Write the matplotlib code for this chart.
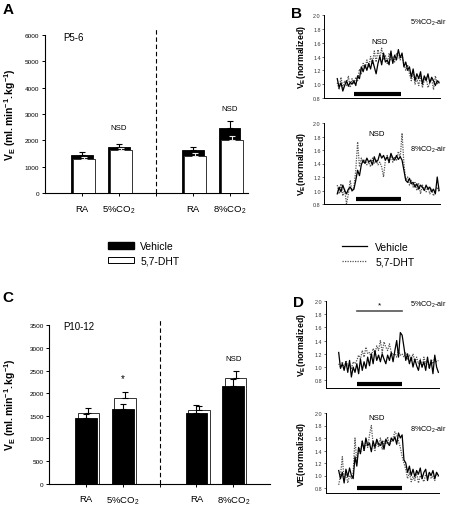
import numpy as np
import matplotlib
matplotlib.use('Agg')
import matplotlib.pyplot as plt
from matplotlib.patches import Patch
from matplotlib.lines import Line2D

# Bar data (ml.min-1.kg-1), groups: RA, 5%CO2, RA, 8%CO2
positions = [1, 2, 4, 5]
group_labels = ['RA', '5%CO$_2$', '', 'RA', '8%CO$_2$']

a_vehicle = [1450, 1750, 1650, 2480]
a_vehicle_err = [100, 100, 110, 270]
a_dht = [1280, 1620, 1420, 2030]
a_dht_err = [110, 100, 120, 130]

c_vehicle = [1460, 1650, 1560, 2150]
c_vehicle_err = [80, 110, 170, 170]
c_dht = [1560, 1900, 1620, 2330]
c_dht_err = [110, 130, 90, 150]

# Normalized VE traces (sample index), stimulus marked by black bar
b5_vehicle = [1.08, 0.95, 1.02, 0.90, 0.98, 1.05, 0.97, 1.03, 1.00,
              1.05, 0.98, 1.12, 1.08, 1.25, 1.18, 1.28, 1.20, 1.30, 1.22, 1.35, 1.25, 1.15, 1.30,
              1.40, 1.28, 1.45, 1.32, 1.35, 1.28, 1.48, 1.30, 1.42, 1.35, 1.50, 1.38, 1.45,
              1.25, 1.32, 1.20, 1.25, 1.10, 1.22, 1.05, 1.15, 1.08, 1.18, 1.00, 1.12, 1.05, 1.15,
              1.02, 1.10, 1.05, 0.98, 1.05, 1.02]
b5_dht = [1.02, 0.92, 1.10, 0.95, 1.05, 0.98, 1.12, 0.95, 1.08,
          1.00, 1.10, 1.05, 1.22, 1.15, 1.30, 1.22, 1.35, 1.25, 1.40, 1.30, 1.48, 1.32, 1.50,
          1.38, 1.52, 1.35, 1.42, 1.30, 1.45, 1.35, 1.40, 1.32, 1.45, 1.40, 1.35, 1.42,
          1.30, 1.20, 1.28, 1.15, 1.05, 1.18, 1.00, 1.08, 0.98, 1.12, 0.95, 1.05, 1.10, 0.95,
          1.02, 1.08, 0.92, 1.12, 1.00, 1.05]
b8_vehicle = [0.95, 1.05, 0.98, 1.08, 1.00, 0.95, 1.02, 1.05, 1.00,
              1.02, 1.15, 1.30, 1.22, 1.38, 1.45, 1.40, 1.48, 1.42, 1.45, 1.38, 1.50, 1.42, 1.45,
              1.55, 1.48, 1.52, 1.45, 1.50, 1.42, 1.55, 1.48, 1.45, 1.52, 1.46, 1.50, 1.45,
              1.30, 1.15, 1.12, 1.18, 1.10, 1.12, 1.05, 1.10, 1.02, 1.08, 1.05, 1.00, 1.08, 1.02,
              1.05, 0.98, 1.02, 0.95, 1.20, 1.00]
b8_dht = [1.08, 0.95, 1.10, 0.92, 1.02, 0.80, 0.95, 1.15, 0.98,
          1.05, 1.30, 1.72, 1.35, 1.48, 1.40, 1.45, 1.38, 1.42, 1.35, 1.48, 1.40, 1.45, 1.38,
          1.42, 1.35, 1.20, 1.45, 1.52, 1.40, 1.55, 1.42, 1.50, 1.45, 1.58, 1.48, 1.85,
          1.40, 1.15, 1.20, 1.08, 1.15, 1.05, 1.12, 1.00, 1.10, 0.95, 1.08, 1.02, 0.98, 1.05,
          0.95, 1.02, 0.92, 1.00, 1.05, 0.98]
d5_vehicle = [1.22, 0.98, 1.05, 0.95, 1.08, 0.92, 1.10, 0.85, 1.00,
              0.92, 1.05, 0.90, 1.12, 0.95, 1.08, 0.98, 1.15, 1.02, 1.20, 1.05, 1.25, 1.10, 1.18,
              1.08, 1.20, 1.12, 1.05, 1.18, 1.10, 1.22, 1.08, 1.25, 1.40, 1.15, 1.52, 1.48,
              1.30, 1.10, 1.20, 1.05, 1.15, 1.00, 1.12, 1.02, 0.95, 1.10, 1.00, 1.08, 0.95, 1.15,
              0.98, 1.10, 0.90, 1.18, 1.00, 0.92]
d5_dht = [1.05, 1.00, 1.08, 0.98, 1.10, 1.02, 1.05, 0.98, 1.08,
          1.05, 1.10, 1.18, 1.12, 1.25, 1.15, 1.30, 1.20, 1.22, 1.15, 1.28, 1.20, 1.32, 1.25,
          1.40, 1.22, 1.38, 1.30, 1.25, 1.35, 1.22, 1.18, 1.20, 1.15, 1.25, 1.18, 1.20,
          1.15, 1.22, 1.12, 1.18, 1.10, 1.20, 1.08, 1.15, 1.05, 1.12, 1.00, 1.15, 1.05, 1.10,
          0.98, 1.12, 1.05, 1.15, 1.08, 1.10]
d8_vehicle = [1.08, 0.95, 1.05, 0.88, 1.10, 0.98, 1.12, 1.00, 0.95,
              1.30, 1.15, 1.45, 1.35, 1.55, 1.40, 1.60, 1.48, 1.52, 1.38, 1.55, 1.45, 1.58, 1.50,
              1.48, 1.55, 1.42, 1.58, 1.52, 1.48, 1.60, 1.55, 1.62, 1.50, 1.68, 1.60, 1.65,
              1.25, 1.20, 1.05, 1.15, 1.00, 1.10, 0.98, 1.08, 1.02, 1.12, 0.95, 1.05, 1.10, 0.92,
              1.05, 1.00, 1.08, 0.95, 1.05, 1.00]
d8_dht = [0.85, 1.00, 1.30, 0.92, 1.05, 0.88, 1.00, 0.95, 1.05,
          1.60, 1.20, 1.45, 1.35, 1.55, 1.40, 1.52, 1.45, 1.65, 1.80, 1.50, 1.40, 1.55, 1.45,
          1.60, 1.42, 1.55, 1.50, 1.62, 1.48, 1.55, 1.60, 1.70, 1.65, 1.55, 1.45, 1.30,
          1.20, 1.10, 0.95, 1.05, 0.90, 0.98, 0.92, 1.05, 0.88, 1.00, 0.95, 0.90, 1.02, 0.98,
          1.05, 0.95, 1.00, 0.92, 1.05, 0.98]
stim_b5 = [9, 34.5]
stim_b8 = [10, 34.5]
stim_d5 = [10, 35]
stim_d8 = [10, 35]

plt.rcParams['font.family'] = 'Liberation Sans'
plt.rcParams['mathtext.fontset'] = 'custom'
plt.rcParams['mathtext.rm'] = 'Liberation Sans'
plt.rcParams['mathtext.it'] = 'Liberation Sans'
plt.rcParams['mathtext.bf'] = 'Liberation Sans:bold'
plt.rcParams['mathtext.default'] = 'regular'

W, H = 463, 506
fig = plt.figure(figsize = (W / 100, H / 100), dpi = 100)


def axes_px(x0, y0, x1, y1):
    return fig.add_axes([x0 / W, 1 - y1 / H, (x1 - x0) / W, (y1 - y0) / H])


def text_px(x, y, s, **kw):
    fig.text(x / W, 1 - y / H, s, **kw)


def bar_panel(ax, veh, veh_err, dht, dht_err, ymax, ystep, xmax, front):
    width = 0.59
    shift = 0.065
    zero = [0] * len(veh)
    if front == 'dht':
        z_veh, z_dht = 2, 4
        dht_ecolor = '#e8e8e8'
    else:
        z_veh, z_dht = 4, 2
        dht_ecolor = 'black'
    ax.bar(positions, veh, width, color = 'black', edgecolor = 'black', linewidth = 0.6, zorder = z_veh)
    ax.errorbar(positions, veh, yerr = [zero, veh_err], fmt = 'none', ecolor = 'black',
                elinewidth = 0.8, capsize = 2.5, capthick = 0.8, zorder = z_veh + 1)
    dht_x = [p + shift for p in positions]
    ax.bar(dht_x, dht, width, color = 'white', edgecolor = '#333333', linewidth = 0.7, zorder = z_dht)
    ax.errorbar(dht_x, dht, yerr = [zero, dht_err], fmt = 'none', ecolor = dht_ecolor,
                elinewidth = 0.8, capsize = 2.5, capthick = 0.8, zorder = z_dht + 1)
    ax.axvline(3, ymin = 0, ymax = 1.04, color = 'black', lw = 0.8, ls = (0, (4, 2.5)), clip_on = False)
    ax.set_xlim(0, xmax)
    ax.set_ylim(0, ymax)
    ax.set_yticks(np.arange(0, ymax + 1, ystep))
    ax.set_xticks([1, 2, 3, 4, 5])
    ax.set_xticklabels(group_labels)
    for s in ['top', 'right']:
        ax.spines[s].set_visible(False)
    for s in ['left', 'bottom']:
        ax.spines[s].set_linewidth(0.8)
    ax.tick_params(axis = 'y', labelsize = 4.6, length = 2.5, width = 0.7, pad = 1.5)
    ax.tick_params(axis = 'x', labelsize = 6.8, length = 2.5, width = 0.7, pad = 5)


def trace_panel(ax, veh, dht, stim, ylo, stim_y):
    x = np.arange(len(veh))
    ax.plot(x, dht, color = '#555555', lw = 0.9, ls = (0, (1, 1)))
    ax.plot(x, veh, color = 'black', lw = 0.9)
    ax.plot(stim, [stim_y, stim_y], color = 'black', lw = 3, solid_capstyle = 'butt')
    ax.set_xlim(-7, 55.5)
    ax.set_ylim(ylo, 2.0)
    ax.set_yticks(np.arange(0.8, 2.01, 0.2))
    ax.set_yticklabels([f'{v:.1f}' for v in np.arange(0.8, 2.01, 0.2)])
    ax.set_xticks([])
    for s in ['top', 'right']:
        ax.spines[s].set_visible(False)
    for s in ['left', 'bottom']:
        ax.spines[s].set_linewidth(0.7)
    ax.tick_params(axis = 'y', labelsize = 3.9, length = 1.5, width = 0.5, pad = 1, colors = '#333333')


# Panel A
ax_a = axes_px(45, 35.7, 248, 194.3)
bar_panel(ax_a, a_vehicle, a_vehicle_err, a_dht, a_dht_err, 6000, 1000, 5.5, 'dht')
ax_a.text(2, 2500, 'NSD', ha = 'center', va = 'center', fontsize = 5.6)
ax_a.text(5, 3220, 'NSD', ha = 'center', va = 'center', fontsize = 5.6)
text_px(63, 38, 'P5-6', fontsize = 7, va = 'center')

# Panel C
ax_c = axes_px(49.3, 326.3, 270, 484.7)
bar_panel(ax_c, c_vehicle, c_vehicle_err, c_dht, c_dht_err, 3500, 500, 6, 'veh')
ax_c.text(2, 2330, '*', ha = 'center', va = 'center', fontsize = 7)
ax_c.text(5, 2770, 'NSD', ha = 'center', va = 'center', fontsize = 5.6)
text_px(63, 327, 'P10-12', fontsize = 7, va = 'center')

ylab = r'$\mathbf{V_E\ (ml.min^{-1}.kg^{-1})}$'
text_px(10, 115, ylab, rotation = 90, ha = 'center', va = 'center', fontsize = 7.5)
text_px(10, 405, ylab, rotation = 90, ha = 'center', va = 'center', fontsize = 7.5)

# Panels B and D
ax_b5 = axes_px(324.3, 16, 440, 99)
trace_panel(ax_b5, b5_vehicle, b5_dht, stim_b5, 0.8, 0.86)
ax_b8 = axes_px(324.3, 124, 440, 205)
trace_panel(ax_b8, b8_vehicle, b8_dht, stim_b8, 0.8, 0.87)
ax_d5 = axes_px(326, 301.7, 439.3, 389.3)
trace_panel(ax_d5, d5_vehicle, d5_dht, stim_d5, 0.68, 0.74)
ax_d5.plot(stim_d5, [1.85, 1.85], color = '#555555', lw = 1.2, clip_on = False)
ax_d5.text(np.mean(stim_d5), 1.93, '*', ha = 'center', va = 'center', fontsize = 6)
ax_d8 = axes_px(326, 414, 439.3, 494)
trace_panel(ax_d8, d8_vehicle, d8_dht, stim_d8, 0.72, 0.8)

tlab = r'$\mathbf{V_E(normalized)}$'
for yc in [57, 164, 345, 454]:
    text_px(302, yc, tlab if yc != 454 else r'$\mathbf{VE(normalized)}$',
            rotation = 90, ha = 'center', va = 'center', fontsize = 6.3)

text_px(380, 43, 'NSD', ha = 'center', va = 'center', fontsize = 5.6)
text_px(377, 135, 'NSD', ha = 'center', va = 'center', fontsize = 5.6)
text_px(377, 419, 'NSD', ha = 'center', va = 'center', fontsize = 5.6)
for yc in [23, 150, 305, 430]:
    text_px(410, yc, '5%CO$_2$-air' if yc in (23, 305) else '8%CO$_2$-air',
            ha = 'left', va = 'center', fontsize = 5.2)

# Panel letters
for x, y, s in [(8, 10, 'A'), (8, 298, 'C'), (297, 14, 'B'), (298, 303, 'D')]:
    text_px(x, y, s, fontsize = 11, fontweight = 'bold', ha = 'center', va = 'center')

# Legends
fig.legend(handles = [Patch(facecolor = 'black', edgecolor = 'black'),
                      Patch(facecolor = 'white', edgecolor = 'black', linewidth = 0.7)],
           labels = ['Vehicle', '5,7-DHT'], loc = 'upper left',
           bbox_to_anchor = (108 / W, 1 - 242 / H), frameon = False, fontsize = 7.5,
           handlelength = 2.5, handleheight = 0.6, handletextpad = 0.6,
           labelspacing = 0.45, borderpad = 0, borderaxespad = 0)
fig.legend(handles = [Line2D([], [], color = 'black', lw = 0.9),
                      Line2D([], [], color = '#555555', lw = 0.9, ls = (0, (1, 1)))],
           labels = ['Vehicle', '5,7-DHT'], loc = 'upper left',
           bbox_to_anchor = (342 / W, 1 - 243 / H), frameon = False, fontsize = 7.5,
           handlelength = 2.4, handletextpad = 0.8,
           labelspacing = 0.45, borderpad = 0, borderaxespad = 0)

fig.savefig('out.png', dpi = 100)
